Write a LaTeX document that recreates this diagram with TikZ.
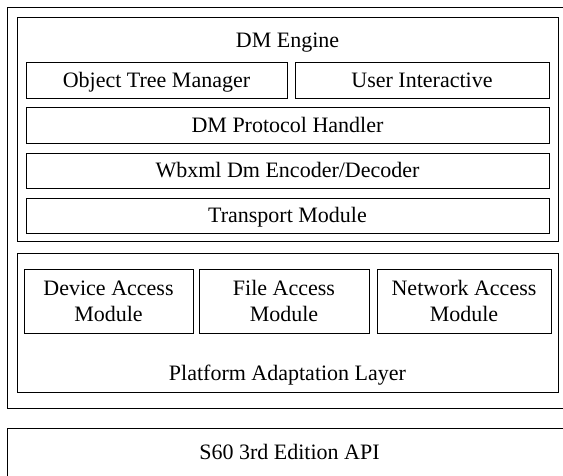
\documentclass[tikz,border=0pt]{standalone}
\usepackage{fontspec}
\setmainfont{Liberation Serif}
\begin{document}
\begin{tikzpicture}[x=1pt,y=-1pt,
  frame/.style={draw=black, line width=1pt, inner sep=0pt, outer sep=0pt},
  lbl/.style={font=\fontsize{22}{26}\selectfont, text height=14.6pt, text depth=0pt, inner sep=0pt},
  box/.style={frame, font=\fontsize{22}{26}\selectfont, text height=14.6pt, text depth=0pt},
  box2/.style={frame, font=\fontsize{22}{26}\selectfont, align=center}
]
\useasboundingbox (0,0) rectangle (563,475);
\clip (0,0) rectangle (563,475);
% outer frame
\node[frame, minimum width=563pt, minimum height=401pt] (outer) at (288.5,207.5) {};
% DM Engine
\node[frame, minimum width=541pt, minimum height=224pt] (engine) at (287.5,129) {};
\node[lbl] (enginelbl) at (287.5,40) {DM Engine};
\node[box, minimum width=261pt, minimum height=36pt] (otm) at (156.5,80) {Object Tree Manager};
\node[box, minimum width=254pt, minimum height=36pt] (ui) at (422,80) {User Interactive};
\node[box, minimum width=523pt, minimum height=36pt] (proto) at (287.5,125) {DM Protocol Handler};
\node[box, minimum width=523pt, minimum height=35pt] (wbxml) at (287.5,170.5) {Wbxml Dm Encoder/Decoder};
\node[box, minimum width=523pt, minimum height=35pt] (transport) at (287.5,215.5) {Transport Module};
% Platform Adaptation Layer
\node[frame, minimum width=541pt, minimum height=139pt] (pal) at (287.5,322.5) {};
\node[lbl] (pallbl) at (287.5,373) {Platform Adaptation Layer};
\node[box2, minimum width=169pt, minimum height=64pt] (device) at (108.5,301) {Device Access\\Module};
\node[box2, minimum width=170pt, minimum height=64pt] (file) at (284,301) {File Access\\Module};
\node[box2, minimum width=174pt, minimum height=64pt] (network) at (464,301) {Network Access\\Module};
% S60
\node[frame, minimum width=565pt, minimum height=62pt] (s60) at (289.5,459) {};
\node[lbl] (s60lbl) at (289.5,452) {S60 3rd Edition API};
\end{tikzpicture}
\end{document}
